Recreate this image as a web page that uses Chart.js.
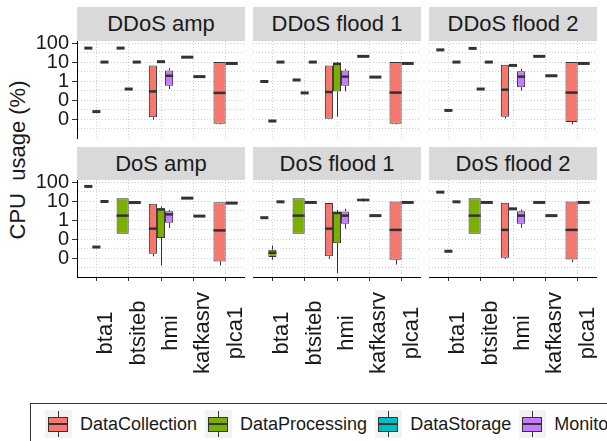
<!DOCTYPE html>
<html>
<head>
<meta charset="utf-8">
<script src="https://cdn.jsdelivr.net/npm/chart.js@4.4.1/dist/chart.umd.min.js"></script>
<style>
  body { margin: 0; width: 607px; height: 441px; overflow: hidden; background: #fff; position: relative;
         font-family: 'Liberation Sans', Arial, sans-serif; color: #1a1a1a; }
  canvas { position: absolute; }
  .strip { position: absolute; background: #d9d9d9; font-size: 22px; display: flex;
           align-items: center; justify-content: center; }
  #ytitle { position: absolute; left: -82px; top: 147px; width: 200px; height: 26px; line-height: 26px;
            text-align: center; font-size: 22px; white-space: pre; transform: rotate(-90deg); }
  #legendBox { position: absolute; left: 30px; top: 403px; width: 800px; height: 100px; border: 1px solid #333; }
  #legend { position: absolute; left: 45px; top: 410px; height: 28px; display: flex; align-items: center;
            font-size: 18px; white-space: nowrap; }
  .key { position: relative; width: 27px; height: 28px; background: #f2f2f2; flex: none; margin-right: 8px; }
  .key .wh { position: absolute; left: 13px; top: 1px; width: 1px; height: 26px; background: #333; }
  .key .bx { position: absolute; left: 3px; top: 7px; width: 20px; height: 15px; box-sizing: border-box; border: 1px solid #333; }
  .key .md { position: absolute; left: 3px; top: 13px; width: 20px; height: 2px; background: #333; }
  .lbl { margin-right: 8px; }
</style>
</head>
<body>
<div id="ytitle">CPU  usage (%)</div>
<div id="legendBox"></div>
<div id="legend"></div>
<script>
const categories = ['bta1', 'btsiteb', 'hmi', 'kafkasrv', 'plca1'];
const roles = ['DataCollection', 'DataProcessing', 'DataStorage', 'Monitoring'];
const roleColors = ['#F8766D', '#7CAE00', '#00BFC4', '#C77CFF'];
const panelTitles = ['DDoS amp', 'DDoS flood 1', 'DDoS flood 2', 'DoS amp', 'DoS flood 1', 'DoS flood 2'];
const yTickValues = [0.01, 0.1, 1, 10, 100];
const yTickLabels = ['0', '0', '1', '10', '100'];
const yMinorValues = [0.00316, 0.0316, 0.316, 3.16, 31.6];

// one entry per category, boxes in dodge order
// box: [role, min, q1, median, q3, max]; flat box: [role, value]
const ddosAmp = [
  [[0, 57], [1, 0.026], [3, 10.5]],
  [[0, 57], [1, 0.4], [3, 10.5]],
  [[0, 0.0096, 0.013, 0.3, 7, 7], [1, 11], [3, 0.4, 0.6, 2, 3.8, 5]],
  [[2, 19], [3, 1.8]],
  [[0, 0.0055, 0.006, 0.25, 10.5, 10.5], [3, 8.9]],
];
const ddosFlood1 = [
  [[0, 1.0], [1, 0.0083], [3, 10.5]],
  [[0, 1.2], [1, 0.25], [3, 10.5]],
  [[0, 0.011, 0.011, 0.28, 7, 7], [1, 0.014, 0.3, 8.5, 9.3, 10.8], [3, 0.3, 0.6, 1.8, 3.8, 4.6]],
  [[2, 21], [3, 1.7]],
  [[0, 0.0055, 0.006, 0.26, 10.5, 10.5], [3, 8.9]],
];
const ddosFlood2 = [
  [[0, 46], [1, 0.03], [3, 10.5]],
  [[0, 55], [1, 0.4], [3, 10.5]],
  [[0, 0.011, 0.014, 0.37, 7.5, 7.5], [1, 7], [3, 0.33, 0.5, 1.8, 3.5, 4.6]],
  [[2, 21], [3, 2]],
  [[0, 0.0055, 0.0073, 0.26, 10.5, 10.5], [3, 8.9]],
];
const dosAmp = [
  [[0, 62], [1, 0.04], [3, 10]],
  [[1, 0.2, 0.2, 1.8, 15, 15], [3, 8.8]],
  [[0, 0.013, 0.018, 0.37, 7.6, 7.6], [1, 0.0043, 0.12, 3.8, 4.4, 5.5], [3, 0.41, 0.75, 2.1, 3.1, 3.6]],
  [[2, 15], [3, 1.7]],
  [[0, 0.0043, 0.007, 0.3, 9.2, 9.2], [3, 8.2]],
];
const dosFlood1 = [
  [[0, 1.4], [1, 0.0086, 0.012, 0.02, 0.029, 0.048], [3, 9.6]],
  [[1, 0.2, 0.2, 1.8, 15, 15], [3, 8.9]],
  [[0, 0.0096, 0.013, 0.37, 8.2, 8.2], [1, 0.0017, 0.064, 2.5, 2.7, 3.6], [3, 0.37, 0.67, 1.8, 3.0, 4.1]],
  [[2, 9.6, 10.5, 12, 14, 15], [3, 1.8]],
  [[0, 0.0048, 0.0086, 0.32, 10, 10], [3, 8.9]],
];
const dosFlood2 = [
  [[0, 31], [1, 0.024], [3, 9.6]],
  [[1, 0.2, 0.2, 1.8, 15, 15], [3, 8.9]],
  [[0, 0.0096, 0.011, 0.32, 8.5, 8.5], [1, 4.1], [3, 0.41, 0.67, 1.8, 3.1, 3.8]],
  [[2, 8.9], [3, 1.8]],
  [[0, 0.0064, 0.0088, 0.32, 10, 10], [3, 8.9]],
];
const panels = [ddosAmp, ddosFlood1, ddosFlood2, dosAmp, dosFlood1, dosFlood2];

const FONT = "'Liberation Sans', Arial, sans-serif";
const GRID = '#cfcfcf';
const colLeft = [77, 253, 429];
const rowTop = [41, 180];
const stripTop = [7, 147];
const PW = 168, PH = 97, M = 20;

function summary(b) {
  if (b.length === 2) return {role: b[0], min: b[1], q1: b[1], med: b[1], q3: b[1], max: b[1], flat: true};
  return {role: b[0], min: b[1], q1: b[2], med: b[3], q3: b[4], max: b[5], flat: false};
}

const boxPlugin = {
  id: 'boxplot',
  beforeDatasetsDraw(chart) {
    const {ctx, chartArea: a, scales: {y}} = chart;
    ctx.save();
    ctx.beginPath(); ctx.rect(a.left, a.top, a.width, a.height); ctx.clip();
    ctx.strokeStyle = '#333'; ctx.lineWidth = 1;
    chart.data.datasets.forEach((ds, di) => {
      chart.getDatasetMeta(di).data.forEach((el, i) => {
        const b = ds.boxes[i];
        if (!b || b.flat) return;
        const x = Math.round(el.x) + 0.5;
        ctx.beginPath();
        ctx.moveTo(x, y.getPixelForValue(b.max)); ctx.lineTo(x, y.getPixelForValue(b.q3));
        ctx.moveTo(x, y.getPixelForValue(b.q1)); ctx.lineTo(x, y.getPixelForValue(b.min));
        ctx.stroke();
      });
    });
    ctx.restore();
  },
  afterDatasetsDraw(chart) {
    const {ctx, chartArea: a, scales: {y}} = chart;
    ctx.save();
    ctx.beginPath(); ctx.rect(a.left, a.top, a.width, a.height); ctx.clip();
    ctx.strokeStyle = '#333';
    chart.data.datasets.forEach((ds, di) => {
      chart.getDatasetMeta(di).data.forEach((el, i) => {
        const b = ds.boxes[i];
        if (!b) return;
        const py = y.getPixelForValue(b.med);
        ctx.lineWidth = b.flat ? 3 : 2.5;
        ctx.beginPath();
        ctx.moveTo(el.x - el.width / 2, py); ctx.lineTo(el.x + el.width / 2, py);
        ctx.stroke();
      });
    });
    ctx.restore();
  },
  afterDraw(chart, args, opts) {
    if (!opts.labels) return;
    const {ctx, chartArea: a, scales: {x}} = chart;
    ctx.save();
    ctx.font = '22px ' + FONT;
    ctx.fillStyle = '#1a1a1a';
    ctx.textAlign = 'center';
    ctx.textBaseline = 'alphabetic';
    categories.forEach((c, i) => {
      ctx.save();
      ctx.translate(x.getPixelForValue(i) + 16, a.bottom + 56);
      ctx.rotate(-Math.PI / 2);
      ctx.fillText(c, 0, 0);
      ctx.restore();
    });
    ctx.restore();
  }
};

panels.forEach((boxes, p) => {
  const c = p % 3, r = Math.floor(p / 3);
  const yW = c === 0 ? 47 : 0;
  const xH = r === 1 ? 4 : 0;
  const padB = r === 1 ? 100 : M;

  const strip = document.createElement('div');
  strip.className = 'strip';
  strip.textContent = panelTitles[p];
  strip.style.left = colLeft[c] + 'px';
  strip.style.top = stripTop[r] + 'px';
  strip.style.width = PW + 'px';
  strip.style.height = (rowTop[r] - stripTop[r]) + 'px';
  document.body.appendChild(strip);

  const cv = document.createElement('canvas');
  cv.width = yW + PW;
  cv.height = M + PH + xH + padB;
  cv.style.left = (colLeft[c] - yW) + 'px';
  cv.style.top = (rowTop[r] - M) + 'px';
  document.body.appendChild(cv);

  const datasets = [0, 1, 2].map(s => {
    const summ = boxes.map(cat => cat[s] ? summary(cat[s]) : null);
    return {
      data: summ.map((b, i) => ({x: i, y: b ? [b.q1, b.q3] : null})),
      boxes: summ,
      backgroundColor: summ.map(b => b ? roleColors[b.role] : 'transparent'),
      borderColor: '#333',
      borderWidth: 1,
      borderSkipped: false,
      skipNull: true,
      categoryPercentage: 0.75,
      barPercentage: 1,
    };
  });

  new Chart(cv, {
    type: 'bar',
    data: {datasets},
    plugins: [boxPlugin],
    options: {
      responsive: false,
      animation: false,
      devicePixelRatio: 1,
      layout: {padding: {top: M, bottom: padB, left: 0, right: 0}},
      plugins: {
        legend: {display: false},
        tooltip: {enabled: false},
        boxplot: {labels: r === 1},
      },
      scales: {
        x: {
          type: 'linear', min: -0.6, max: 4.6, offset: false,
          afterBuildTicks: s => { s.ticks = categories.map((name, i) => ({value: i})); },
          afterFit: s => { s.height = xH; },
          ticks: {display: false},
          grid: {color: GRID, offset: false, drawTicks: r === 1, tickLength: 4, tickColor: '#333', tickWidth: 1},
          border: {display: r === 1, color: '#000', width: 1, dash: [1, 2]},
        },
        y: {
          type: 'logarithmic', min: 0.00106, max: 135,
          afterBuildTicks: s => {
            s.ticks = yMinorValues.concat(yTickValues).sort((a, b) => a - b).map(v => ({value: v}));
          },
          afterFit: s => { s.width = yW; },
          ticks: {
            display: c === 0, autoSkip: false, padding: 3, color: '#1a1a1a',
            font: {family: FONT, size: 20},
            callback: v => { const k = yTickValues.indexOf(v); return k >= 0 ? yTickLabels[k] : ''; },
          },
          grid: {
            color: GRID, drawTicks: c === 0, tickLength: 5, tickWidth: 1,
            tickColor: ctx => ctx.tick && yTickValues.includes(ctx.tick.value) ? '#333' : 'rgba(0,0,0,0)',
          },
          border: {display: c === 0, color: '#000', width: 1, dash: [1, 2]},
        },
      },
    },
  });
});

const legend = document.getElementById('legend');
roles.forEach((name, i) => {
  const key = document.createElement('span');
  key.className = 'key';
  key.innerHTML = '<span class="wh"></span><span class="bx" style="background:' + roleColors[i] + '"></span><span class="md"></span>';
  const lbl = document.createElement('span');
  lbl.className = 'lbl';
  lbl.textContent = name;
  legend.appendChild(key);
  legend.appendChild(lbl);
});
</script>
</body>
</html>
